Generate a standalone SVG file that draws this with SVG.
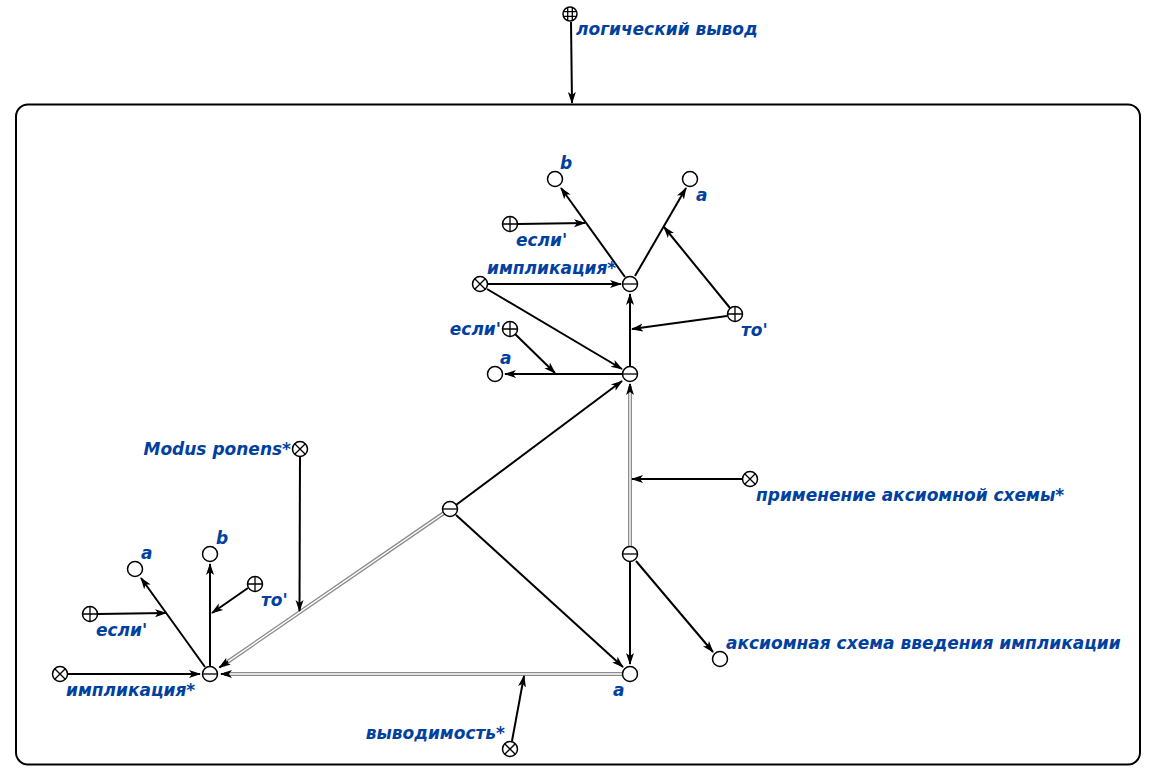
<svg xmlns="http://www.w3.org/2000/svg" width="1156" height="780" viewBox="0 0 1156 780">
  <style>
    .n { fill: #fff; stroke: #000; stroke-width: 1.5; }
    .g { stroke: #000; stroke-width: 1.3; fill: none; }
    .e { stroke: #000; stroke-width: 2; fill: none; }
    .dbl-o { stroke: #8c8c8c; stroke-width: 4; fill: none; }
    .dbl-i { stroke: #fff; stroke-width: 1.4; fill: none; }
    .lbl { font-family: "DejaVu Sans", sans-serif; font-weight: bold; font-style: italic; font-size: 17px; fill: #0041a0; }
    .end { text-anchor: end; }
  </style>
  <defs>
    <marker id="ah" markerUnits="userSpaceOnUse" markerWidth="12" markerHeight="10" refX="11" refY="4" orient="auto" viewBox="0 0 12 8">
      <path d="M0,0 L12,4 L0,8 L3,4 z" fill="#000"/>
    </marker>
    <g id="plain"><circle class="n" r="7.5"/></g>
    <g id="minus"><circle class="n" r="7.5"/><path class="g" d="M-7.5,0 H7.5"/></g>
    <g id="plus"><circle class="n" r="7.5"/><path class="g" d="M-7.5,0 H7.5 M0,-7.5 V7.5"/></g>
    <g id="cross"><circle class="n" r="7.5"/><path class="g" d="M-5.3,-5.3 L5.3,5.3 M-5.3,5.3 L5.3,-5.3"/></g>
    <g id="grid"><circle class="n" r="7"/><path class="g" d="M-7,-2.3 H7 M-7,2.3 H7 M-2.3,-7 V7 M2.3,-7 V7" stroke-width="1"/></g>
  </defs>

  <!-- outer contour -->
  <rect x="16" y="104.5" width="1124" height="660" rx="12" ry="12" fill="none" stroke="#000" stroke-width="2"/>

  <!-- connectors -->
  <g id="connectors">
    <!-- double (membership of structures) lines -->
    <path class="dbl-o" d="M630,547 V386"/>
    <path class="dbl-i" d="M630,547 V386"/>
    <path class="e" d="M630,390 V384" marker-end="url(#ah)"/>
    <path class="dbl-o" d="M622,674 H224"/>
    <path class="dbl-i" d="M622,674 H224"/>
    <path class="e" d="M228,674 H221" marker-end="url(#ah)"/>
    <path class="dbl-o" d="M444,513 L223,665"/>
    <path class="dbl-i" d="M444,513 L223,665"/>
    <path class="e" d="M228,661.5 L219.5,667.4" marker-end="url(#ah)"/>

    <!-- top link into contour -->
    <path class="e" d="M571,22 L572,103" marker-end="url(#ah)"/>

    <!-- upper structure -->
    <path class="e" d="M625,277 L561,188" marker-end="url(#ah)"/>
    <path class="e" d="M635,276 L686,188" marker-end="url(#ah)"/>
    <path class="e" d="M518,224 L585,223" marker-end="url(#ah)"/>
    <path class="e" d="M488,284 L621,284" marker-end="url(#ah)"/>
    <path class="e" d="M730,308 L664,227" marker-end="url(#ah)"/>
    <path class="e" d="M727,316 L632,329" marker-end="url(#ah)"/>
    <path class="e" d="M630,367 V294" marker-end="url(#ah)"/>
    <path class="e" d="M623,374 H505" marker-end="url(#ah)"/>
    <path class="e" d="M515,334 L555,373" marker-end="url(#ah)"/>
    <path class="e" d="M487,289 L622,369" marker-end="url(#ah)"/>

    <!-- middle -->
    <path class="e" d="M456,505 L622,381" marker-end="url(#ah)"/>
    <path class="e" d="M456,515 L623,667" marker-end="url(#ah)"/>
    <path class="e" d="M742,479 H632" marker-end="url(#ah)"/>
    <path class="e" d="M630,562 V664" marker-end="url(#ah)"/>
    <path class="e" d="M636,561 L713,652" marker-end="url(#ah)"/>
    <path class="e" d="M512,741 L524,676" marker-end="url(#ah)"/>
    <path class="e" d="M300,457 L299.5,611" marker-end="url(#ah)"/>

    <!-- lower structure -->
    <path class="e" d="M205,667 L141,578" marker-end="url(#ah)"/>
    <path class="e" d="M210,667 V564" marker-end="url(#ah)"/>
    <path class="e" d="M98,614 L166,613" marker-end="url(#ah)"/>
    <path class="e" d="M248,588 L212,613" marker-end="url(#ah)"/>
    <path class="e" d="M68,674 L200,674" marker-end="url(#ah)"/>
  </g>

  <!-- nodes -->
  <g id="node-logical-inference"><use href="#grid" x="570" y="14"/><text class="lbl" x="576" y="35">логический вывод</text></g>

  <g id="node-b-top"><use href="#plain" x="555" y="179"/><text class="lbl" x="560" y="169">b</text></g>
  <g id="node-a-top"><use href="#plain" x="690" y="179"/><text class="lbl" x="696" y="201">a</text></g>
  <g id="node-if-top"><use href="#plus" x="510" y="224"/><text class="lbl" x="516" y="246">если'</text></g>
  <g id="node-implication-top"><use href="#cross" x="480" y="284"/><text class="lbl" x="487" y="274">импликация*</text></g>
  <g id="node-impl-top"><use href="#minus" x="630" y="284"/></g>
  <g id="node-then-top"><use href="#plus" x="735" y="314"/><text class="lbl" x="741" y="336">то'</text></g>
  <g id="node-if-mid"><use href="#plus" x="510" y="329"/><text class="lbl end" x="501" y="335">если'</text></g>
  <g id="node-a-mid"><use href="#plain" x="495" y="374"/><text class="lbl" x="500" y="364">a</text></g>
  <g id="node-pair-mid"><use href="#minus" x="630" y="374"/></g>

  <g id="node-modus-ponens"><use href="#cross" x="300" y="449"/><text class="lbl end" x="291" y="455">Modus ponens*</text></g>
  <g id="node-step"><use href="#minus" x="450" y="509"/></g>
  <g id="node-axiom-apply"><use href="#cross" x="750" y="479"/><text class="lbl" x="756" y="501">применение аксиомной схемы*</text></g>
  <g id="node-axiom-pair"><use href="#minus" x="630" y="554"/></g>
  <g id="node-axiom-scheme"><use href="#plain" x="720" y="659"/><text class="lbl" x="726" y="649">аксиомная схема введения импликации</text></g>
  <g id="node-a-bottom"><use href="#plain" x="630" y="674"/><text class="lbl" x="613" y="696">a</text></g>
  <g id="node-derivability"><use href="#cross" x="510" y="749"/><text class="lbl end" x="505" y="739">выводимость*</text></g>

  <g id="node-a-low"><use href="#plain" x="135" y="569"/><text class="lbl" x="141" y="559">a</text></g>
  <g id="node-b-low"><use href="#plain" x="210" y="554"/><text class="lbl" x="216" y="544">b</text></g>
  <g id="node-if-low"><use href="#plus" x="90" y="614"/><text class="lbl" x="96" y="636">если'</text></g>
  <g id="node-then-low"><use href="#plus" x="255" y="584"/><text class="lbl" x="261" y="606">то'</text></g>
  <g id="node-implication-low"><use href="#cross" x="60" y="674"/><text class="lbl" x="66" y="696">импликация*</text></g>
  <g id="node-impl-low"><use href="#minus" x="210" y="674"/></g>
</svg>
